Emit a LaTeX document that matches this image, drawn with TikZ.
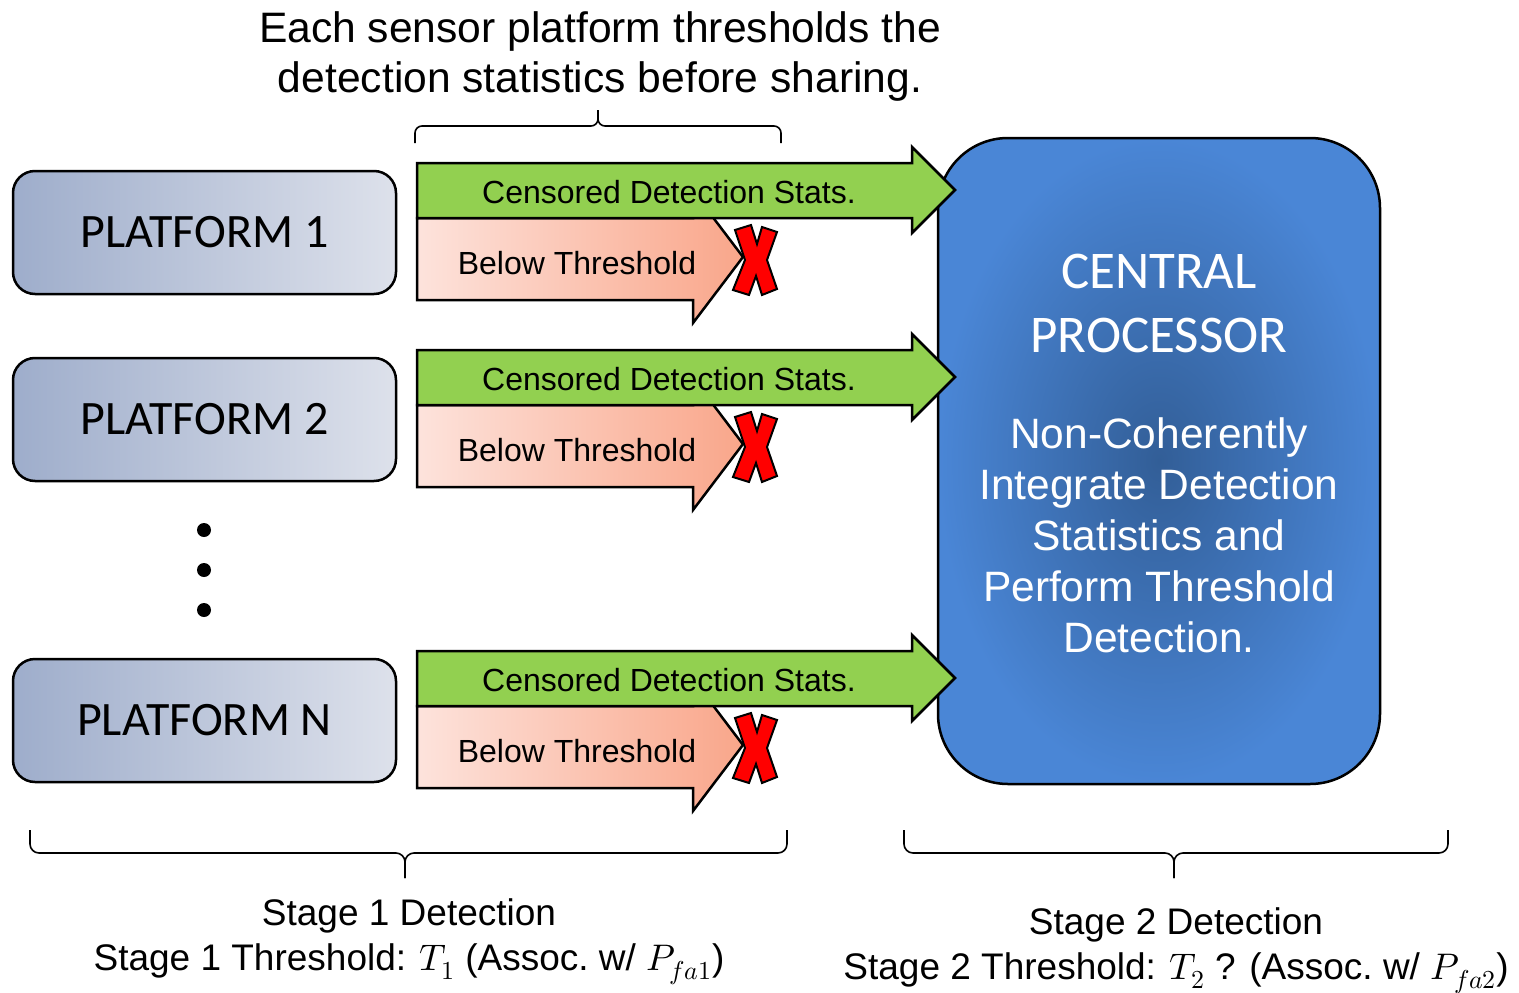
\documentclass[tikz,border=0pt]{standalone}
\usepackage{fontspec}
\usepackage{unicode-math}
\setmainfont{Liberation Sans}
\setmathfont{Latin Modern Math}
\newfontfamily\calibri{Carlito}
\usepackage{tikz}
\usetikzlibrary{arrows.meta,calc,positioning}
\definecolor{PlatLeft}{HTML}{9EADCB}
\definecolor{PlatRight}{HTML}{DDE1EB}
\definecolor{BelowLeft}{HTML}{FDE3DC}
\definecolor{BelowRight}{HTML}{F9A68A}
\definecolor{StatGreen}{HTML}{92D050}
\definecolor{CPInner}{HTML}{325E97}
\definecolor{CPOuter}{HTML}{4A86D6}

\begin{document}
\begin{tikzpicture}[x=1pt, y=-1pt, >=Latex]
    \tikzstyle{platform}=[draw=black, line width=2.5pt, rounded corners=22pt, minimum width=383pt, minimum height=123pt, left color=PlatLeft, right color=PlatRight, font=\calibri\fontsize{48}{58}\selectfont]
    \tikzstyle{lbl}=[font=\fontsize{32}{38}\selectfont, inner sep=0pt]
    \tikzstyle{dot}=[circle, fill=black, inner sep=0pt, minimum size=14pt]
    \tikzstyle{brc}=[line width=1.6pt, rounded corners=9pt]
    \useasboundingbox (0,0) rectangle (1519,993);

    % central processor
    \node[draw=black, line width=2.5pt, rounded corners=70pt, minimum width=442pt, minimum height=646pt, inner color=CPInner, outer color=CPOuter] (cp) at (1159,461) {};
    \node[font=\calibri\fontsize{53}{64}\selectfont, text=white, align=center] (cptitle) at (1159,303) {CENTRAL\\PROCESSOR};
    \node[font=\fontsize{42.5}{51}\selectfont, text=white, align=center] (cpbody) at (1159,535) {Non-Coherently\\Integrate Detection\\Statistics and\\Perform Threshold\\Detection.};

    % platforms with their two arrows
    \foreach \dy/\n in {0/1,187/2,488/N}{
        \begin{scope}[shift={(0,\dy)}]
            \node[platform] (p\n) at (204.5,232.5) {PLATFORM \n};
            \draw[line width=2.5pt, left color=BelowLeft, right color=BelowRight] (417,218) -- (693,218) -- (693,191) -- (743,257) -- (693,323) -- (693,300) -- (417,300) -- cycle;
            \node[lbl] (bel\n) at (577,263) {Below Threshold};
            \draw[line width=2pt, fill=red] (735,230) -- (751,225) -- (757,244) -- (762,227) -- (777,232) -- (767,260) -- (777,289) -- (762,295) -- (756,276) -- (749,295) -- (733,290) -- (745,260) -- cycle;
            \draw[line width=2.5pt, fill=StatGreen] (417,163) -- (912,163) -- (912,147) -- (955,190) -- (912,233) -- (912,218) -- (417,218) -- cycle;
            \node[lbl] (cen\n) at (669,192) {Censored Detection Stats.};
        \end{scope}
    }
    \foreach \i in {1,2,3}
        \node[dot] (dot\i) at (204,490+40*\i) {};

    % braces
    \draw[brc, rounded corners=7pt] (415,143) -- (415,126) -- (598,126) -- (598,110);
    \draw[brc, rounded corners=7pt] (781,143) -- (781,126) -- (598,126) -- (598,110);
    \draw[brc] (30,830) -- (30,853) -- (405,853) -- (405,878);
    \draw[brc] (787,830) -- (787,853) -- (405,853) -- (405,878);
    \draw[brc] (904,830) -- (904,853) -- (1174,853) -- (1174,878);
    \draw[brc] (1448,830) -- (1448,853) -- (1174,853) -- (1174,878);

    % captions
    \node[font=\fontsize{42.6}{50}\selectfont, align=center] (title) at (600,56) {Each sensor platform thresholds the\\detection statistics before sharing.};
    \node[font=\fontsize{37}{45}\selectfont, align=center] (stage1) at (409,942) {Stage 1 Detection\\Stage 1 Threshold: $T_1$ (Assoc.\ w/ $P_{fa1}$)};
    \node[font=\fontsize{37}{45}\selectfont, align=center] (stage2) at (1176,951) {Stage 2 Detection\\Stage 2 Threshold: $T_2$ ? (Assoc.\ w/ $P_{fa2}$)};
\end{tikzpicture}
\end{document}
